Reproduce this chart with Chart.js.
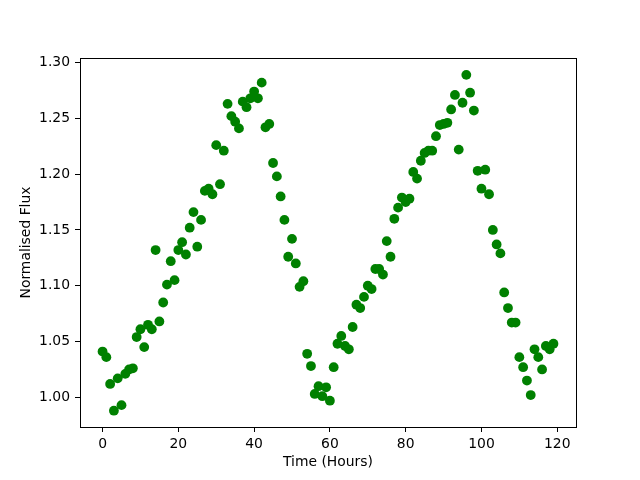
<!DOCTYPE html>
<html>
<head>
<meta charset="utf-8">
<script src="https://cdn.jsdelivr.net/npm/chart.js@4.4.1/dist/chart.umd.min.js"></script>
<style>
  html, body { margin: 0; padding: 0; background: #fff; }
</style>
</head>
<body>
<canvas id="fluxChart" width="640" height="480"></canvas>
<script>
// time of each sample, hours
const hours = [
  0, 1, 2, 3, 4, 5, 6, 7, 8, 9, 10, 11, 12, 13, 14, 15, 16, 17, 18, 19,
  20, 21, 22, 23, 24, 25, 26, 27, 28, 29, 30, 31, 32, 33, 34, 35, 36, 37, 38, 39,
  40, 41, 42, 43, 44, 45, 46, 47, 48, 49, 50, 51, 52, 53, 54, 55, 56, 57, 58, 59,
  60, 61, 62, 63, 64, 65, 66, 67, 68, 69, 70, 71, 72, 73, 74, 75, 76, 77, 78, 79,
  80, 81, 82, 83, 84, 85, 86, 87, 88, 89, 90, 91, 92, 93, 94, 95, 96, 97, 98, 99,
  100, 101, 102, 103, 104, 105, 106, 107, 108, 109, 110, 111, 112, 113, 114, 115, 116, 117, 118, 119,
];

// normalised flux
const flux = [
  1.041, 1.036, 1.012, 0.988, 1.017, 0.993, 1.021, 1.025, 1.026, 1.054,
  1.061, 1.045, 1.065, 1.061, 1.132, 1.068, 1.085, 1.101, 1.122, 1.105,
  1.132, 1.139, 1.128, 1.152, 1.166, 1.135, 1.159, 1.185, 1.187, 1.182,
  1.226, 1.191, 1.221, 1.263, 1.252, 1.247, 1.241, 1.265, 1.260, 1.268,
  1.274, 1.268, 1.282, 1.242, 1.245, 1.210, 1.198, 1.180, 1.159, 1.126,
  1.142, 1.120, 1.099, 1.104, 1.039, 1.028, 1.003, 1.010, 1.001, 1.009,
  0.997, 1.027, 1.048, 1.055, 1.046, 1.043, 1.063, 1.083, 1.080, 1.090,
  1.100, 1.097, 1.115, 1.115, 1.110, 1.140, 1.126, 1.160, 1.170, 1.179,
  1.175, 1.178, 1.202, 1.196, 1.212, 1.219, 1.221, 1.221, 1.234, 1.244,
  1.245, 1.246, 1.258, 1.271, 1.222, 1.264, 1.289, 1.273, 1.257, 1.203,
  1.187, 1.204, 1.182, 1.150, 1.137, 1.129, 1.094, 1.080, 1.067, 1.067,
  1.036, 1.027, 1.015, 1.002, 1.043, 1.036, 1.025, 1.046, 1.043, 1.048,
];

const xTicks = [0, 20, 40, 60, 80, 100, 120];
const yTicks = [1.00, 1.05, 1.10, 1.15, 1.20, 1.25, 1.30];

const FONT = "'DejaVu Sans', sans-serif";

// white background + full box around the axes (matplotlib spines)
const frame = {
  id: "frame",
  beforeDraw(chart) {
    const ctx = chart.ctx;
    ctx.save();
    ctx.fillStyle = "#fff";
    ctx.fillRect(0, 0, chart.width, chart.height);
    ctx.restore();
  },
  afterDraw(chart) {
    const { left, top, right, bottom } = chart.chartArea;
    const ctx = chart.ctx;
    ctx.save();
    ctx.strokeStyle = "#000";
    ctx.lineWidth = 1;
    ctx.strokeRect(Math.round(left) + 0.5, Math.round(top) + 0.5,
      Math.round(right - left), Math.round(bottom - top));
    ctx.restore();
  },
};

const ctx = document.getElementById("fluxChart").getContext("2d");
new Chart(ctx, {
  type: "scatter",
  data: {
    datasets: [
      {
        data: hours.map((h, i) => ({ x: h, y: flux[i] })),
        backgroundColor: "#008000",
        borderColor: "#008000",
        pointRadius: 4.9,
        pointBorderWidth: 0,
        pointHoverRadius: 4.9,
      },
    ],
  },
  options: {
    responsive: false,
    animation: false,
    layout: { padding: { top: 58, right: 64, left: 0, bottom: 0 } },
    plugins: {
      legend: { display: false },
      tooltip: { enabled: false },
    },
    scales: {
      x: {
        type: "linear",
        min: -5.95,
        max: 124.95,
        afterBuildTicks: (scale) => {
          scale.ticks = xTicks.map((v) => ({ value: v }));
        },
        afterFit: (scale) => {
          scale.height = 53;
        },
        border: { display: false },
        grid: {
          drawOnChartArea: false,
          drawTicks: true,
          tickLength: 5,
          color: "#000",
          lineWidth: 1,
        },
        ticks: {
          color: "#000",
          padding: 4,
          maxRotation: 0,
          font: { family: FONT, size: 13.9 },
          callback: (v) => String(v),
        },
        title: {
          display: true,
          text: "Time (Hours)",
          color: "#000",
          font: { family: FONT, size: 13.9 },
          padding: { top: 0, bottom: 9 },
        },
      },
      y: {
        type: "linear",
        min: 0.9734,
        max: 1.3041,
        afterBuildTicks: (scale) => {
          scale.ticks = yTicks.map((v) => ({ value: v }));
        },
        afterFit: (scale) => {
          scale.width = 80;
        },
        border: { display: false },
        grid: {
          drawOnChartArea: false,
          drawTicks: true,
          tickLength: 5,
          color: "#000",
          lineWidth: 1,
        },
        ticks: {
          color: "#000",
          padding: 5,
          font: { family: FONT, size: 13.9 },
          callback: (v) => Number(v).toFixed(2),
        },
        title: {
          display: true,
          text: "Normalised Flux",
          color: "#000",
          font: { family: FONT, size: 13.9 },
          padding: { top: 18, bottom: 0 },
        },
      },
    },
  },
  plugins: [frame],
});
</script>
</body>
</html>
